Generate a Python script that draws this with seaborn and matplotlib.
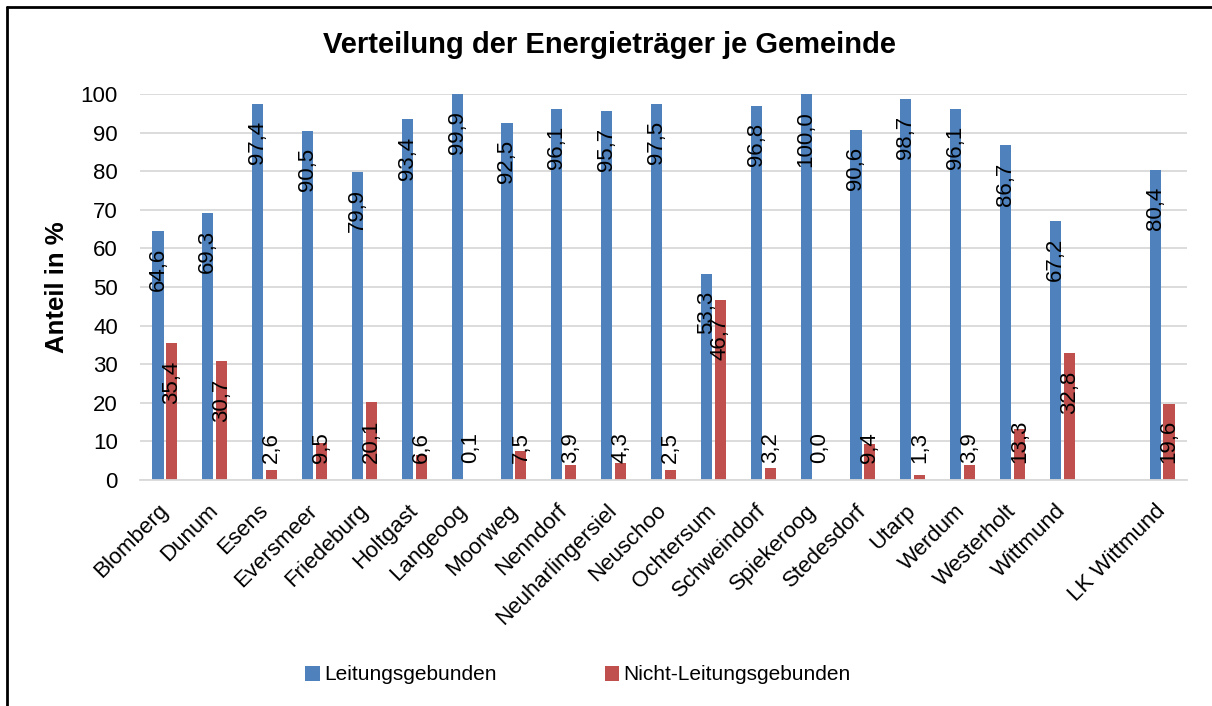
import numpy as np
import pandas as pd
import matplotlib
matplotlib.use("Agg")
import matplotlib.pyplot as plt
from matplotlib.lines import Line2D
from matplotlib.patches import Patch
import seaborn as sns

# ============================
# Daten
# ============================

gemeinden = ["Blomberg", "Dunum", "Esens", "Eversmeer", "Friedeburg", "Holtgast",
             "Langeoog", "Moorweg", "Nenndorf", "Neuharlingersiel", "Neuschoo",
             "Ochtersum", "Schweindorf", "Spiekeroog", "Stedesdorf", "Utarp",
             "Werdum", "Westerholt", "Wittmund", "LK Wittmund"]
leitungsgebunden = [64.6, 69.3, 97.4, 90.5, 79.9, 93.4, 99.9, 92.5, 96.1, 95.7,
                    97.5, 53.3, 96.8, 100.0, 90.6, 98.7, 96.1, 86.7, 67.2, 80.4]
nicht_leitungsgebunden = [35.4, 30.7, 2.6, 9.5, 20.1, 6.6, 0.1, 7.5, 3.9, 4.3,
                          2.5, 46.7, 3.2, 0.0, 9.4, 1.3, 3.9, 13.3, 32.8, 19.6]
reihen = ["Leitungsgebunden", "Nicht-Leitungsgebunden"]
farben = ["#4F81BD", "#C0504D"]
yticks = list(range(0, 101, 10))

df = pd.DataFrame({"Gemeinde": gemeinden,
                   reihen[0]: leitungsgebunden,
                   reihen[1]: nicht_leitungsgebunden})
df_long = df.melt(id_vars="Gemeinde", var_name="Energietraeger", value_name="Anteil")

# leere Stelle vor dem Landkreis
order = gemeinden[:-1] + [" "] + gemeinden[-1:]

# ============================
# Plot
# ============================

sns.set_style("white")
plt.rcParams["font.family"] = ["Liberation Sans", "DejaVu Sans"]
plt.rcParams["text.color"] = "black"
plt.rcParams["xtick.color"] = "black"
plt.rcParams["ytick.color"] = "black"

W, H = 1212, 706
fig = plt.figure(figsize=(W / 100, H / 100), dpi=100)
ax = fig.add_axes([140 / W, 1 - 480 / H, (1187 - 140) / W, (480 - 94) / H])

sns.barplot(data=df_long, x="Gemeinde", y="Anteil", hue="Energietraeger",
            order=order, hue_order=reihen, palette=farben, width=0.56, gap=0.2,
            saturation=1, errorbar=None, legend=False, ax=ax, linewidth=0)

ax.set_ylim(0, 100)
ax.set_yticks(yticks)
ax.yaxis.grid(True, color="#D9D9D9", lw=1.3)
ax.set_axisbelow(True)
for s in ["top", "right", "left"]:
    ax.spines[s].set_visible(False)
ax.spines["bottom"].set_color("#D9D9D9")
ax.spines["bottom"].set_linewidth(1.3)
ax.tick_params(axis="both", length=0, labelsize=16, colors="black")
ax.tick_params(axis="y", pad=16)
ax.set_xlabel("")
ax.set_ylabel("")
for bar in ax.patches:
    bar.set_clip_on(False)

plt.setp(ax.get_xticklabels(), rotation=45, ha="right", va="center",
         rotation_mode="anchor")
ax.tick_params(axis="x", pad=20)

# Datenbeschriftungen (innen am Ende, bei kleinen Werten unten)
fig.canvas.draw()
renderer = fig.canvas.get_renderer()
for cont in ax.containers:
    for bar in cont:
        h = bar.get_height()
        if not np.isfinite(h):
            continue
        xm = bar.get_x() + bar.get_width() / 2
        t = ax.text(xm, h - 4.4, f"{h:.1f}".replace(".", ","), rotation=90,
                    ha="center", va="top", fontsize=16, color="black", clip_on=False)
        bb = t.get_window_extent(renderer).transformed(ax.transData.inverted())
        if bb.y0 < 4.4:
            t.set_y(4.4)
            t.set_va("bottom")

fig.text(0.503, 1 - 45 / H, "Verteilung der Energieträger je Gemeinde",
         ha="center", va="center", fontsize=21, fontweight="bold")
fig.text(57 / W, 1 - 287 / H, "Anteil in %", rotation=90, ha="center",
         va="center", fontsize=18.5, fontweight="bold")

handles = [Patch(facecolor=c, edgecolor="none", label=r) for c, r in zip(farben, reihen)]
fig.legend(handles=handles, loc="center left", bbox_to_anchor=(305 / W, 1 - 675 / H),
           ncol=2, frameon=False, fontsize=15, handlelength=0.7, handleheight=0.7,
           handletextpad=0.2, columnspacing=5.2, borderpad=0, borderaxespad=0)

# Rahmen (nur oben und links sichtbar)
fig.add_artist(Line2D([7 / W, 7 / W], [0, 1 - 7 / H], transform=fig.transFigure,
                      color="black", lw=2))
fig.add_artist(Line2D([7 / W, 1], [1 - 7 / H, 1 - 7 / H], transform=fig.transFigure,
                      color="black", lw=2))

fig.savefig("out.png", dpi=100)
